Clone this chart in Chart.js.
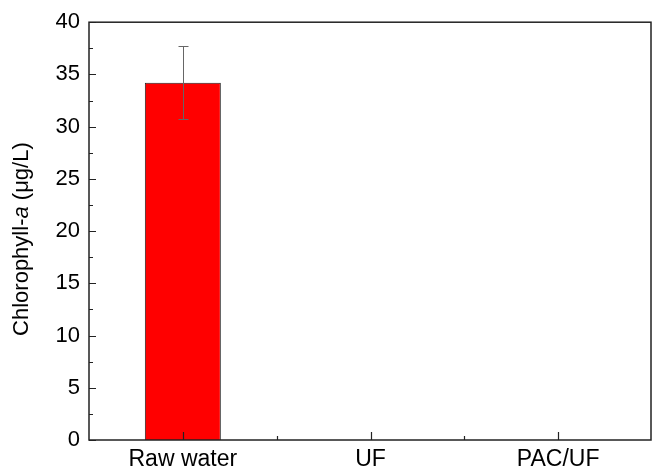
<!DOCTYPE html>
<html><head><meta charset="utf-8">
<script src="https://cdn.jsdelivr.net/npm/chart.js@4/dist/chart.umd.min.js"></script>
<style>html,body{margin:0;padding:0;background:#fff;overflow:hidden}#wrap{width:652px;height:470px}</style>
</head><body><div id="wrap"><canvas id="c" width="652" height="470"></canvas></div>
<script>
const categories = ['Raw water', 'UF', 'PAC/UF'];
const chlValues = [34.2, null, null];
const chlErrLow = [30.7, null, null];
const chlErrHigh = [37.7, null, null];
const yTicks = [0, 5, 10, 15, 20, 25, 30, 35, 40];
const yMinorTicks = [2.5, 7.5, 12.5, 17.5, 22.5, 27.5, 32.5, 37.5];

const FONT = 'Liberation Sans, Arial, sans-serif';

const decorPlugin = {
  id: 'decor',
  afterDatasetsDraw(chart) {
    const ctx = chart.ctx, a = chart.chartArea;
    const x = chart.scales.x, y = chart.scales.y;
    ctx.save();
    // error bars
    ctx.strokeStyle = '#666';
    ctx.lineWidth = 1;
    chlValues.forEach((v, i) => {
      if (chlErrLow[i] == null) return;
      const px = Math.round(x.getPixelForValue(i)) + 0.5;
      const yl = Math.round(y.getPixelForValue(chlErrLow[i])) + 0.5;
      const yh = Math.round(y.getPixelForValue(chlErrHigh[i])) + 0.5;
      ctx.beginPath();
      ctx.moveTo(px, yl); ctx.lineTo(px, yh);
      ctx.moveTo(px - 5, yl); ctx.lineTo(px + 5, yl);
      ctx.moveTo(px - 5, yh); ctx.lineTo(px + 5, yh);
      ctx.stroke();
    });
    // frame
    ctx.strokeStyle = '#222';
    ctx.lineWidth = 1.5;
    ctx.strokeRect(a.left, a.top, a.right - a.left - 1, a.bottom - a.top);
    // inward ticks
    ctx.lineWidth = 1.2;
    ctx.beginPath();
    yTicks.forEach(t => {
      const py = Math.round(y.getPixelForValue(t)) + 0.5;
      ctx.moveTo(a.left, py); ctx.lineTo(a.left + 7, py);
    });
    yMinorTicks.forEach(t => {
      const py = Math.round(y.getPixelForValue(t)) + 0.5;
      ctx.moveTo(a.left, py); ctx.lineTo(a.left + 4, py);
    });
    categories.forEach((c, i) => {
      const px = Math.round(x.getPixelForValue(i)) + 0.5;
      ctx.moveTo(px, a.bottom); ctx.lineTo(px, a.bottom - 8);
      if (i > 0) {
        const pm = Math.round(x.getPixelForValue(i - 0.5)) + 0.5;
        ctx.moveTo(pm, a.bottom); ctx.lineTo(pm, a.bottom - 4);
      }
    });
    ctx.stroke();
    // y-axis title with italic "a"
    const parts = [
      { t: 'Chlorophyll-', f: '22px ' + FONT },
      { t: 'a', f: 'italic 22px ' + FONT },
      { t: ' (μg/L)', f: '22px ' + FONT }
    ];
    let total = 0;
    parts.forEach(p => { ctx.font = p.f; p.w = ctx.measureText(p.t).width; total += p.w; });
    ctx.translate(28, (a.top + a.bottom) / 2 + 8);
    ctx.rotate(-Math.PI / 2);
    ctx.fillStyle = '#000';
    ctx.textBaseline = 'alphabetic';
    ctx.textAlign = 'left';
    let cx = -total / 2;
    parts.forEach(p => { ctx.font = p.f; ctx.fillText(p.t, cx, 0); cx += p.w; });
    ctx.restore();
  }
};

new Chart(document.getElementById('c'), {
  type: 'bar',
  data: {
    labels: categories,
    datasets: [{
      data: chlValues,
      backgroundColor: '#ff0000',
      borderColor: '#222',
      borderWidth: 1,
      categoryPercentage: 1,
      barPercentage: 0.405
    }]
  },
  options: {
    responsive: false,
    animation: false,
    devicePixelRatio: 1,
    layout: { padding: { top: 22, right: 0, left: 0, bottom: 0 } },
    plugins: { legend: { display: false }, tooltip: { enabled: false } },
    scales: {
      x: {
        offset: true,
        grid: { display: false, drawTicks: false },
        border: { display: false },
        ticks: { color: '#000', font: { family: FONT, size: 23 }, padding: 6, maxRotation: 0 },
        afterFit: s => { s.height = 30; }
      },
      y: {
        min: 0, max: 40,
        grid: { display: false, drawTicks: false },
        border: { display: false },
        ticks: { stepSize: 5, color: '#000', font: { family: FONT, size: 22 }, padding: 9 },
        afterFit: s => { s.width = 89; }
      }
    }
  },
  plugins: [decorPlugin]
});
</script>
</body></html>
